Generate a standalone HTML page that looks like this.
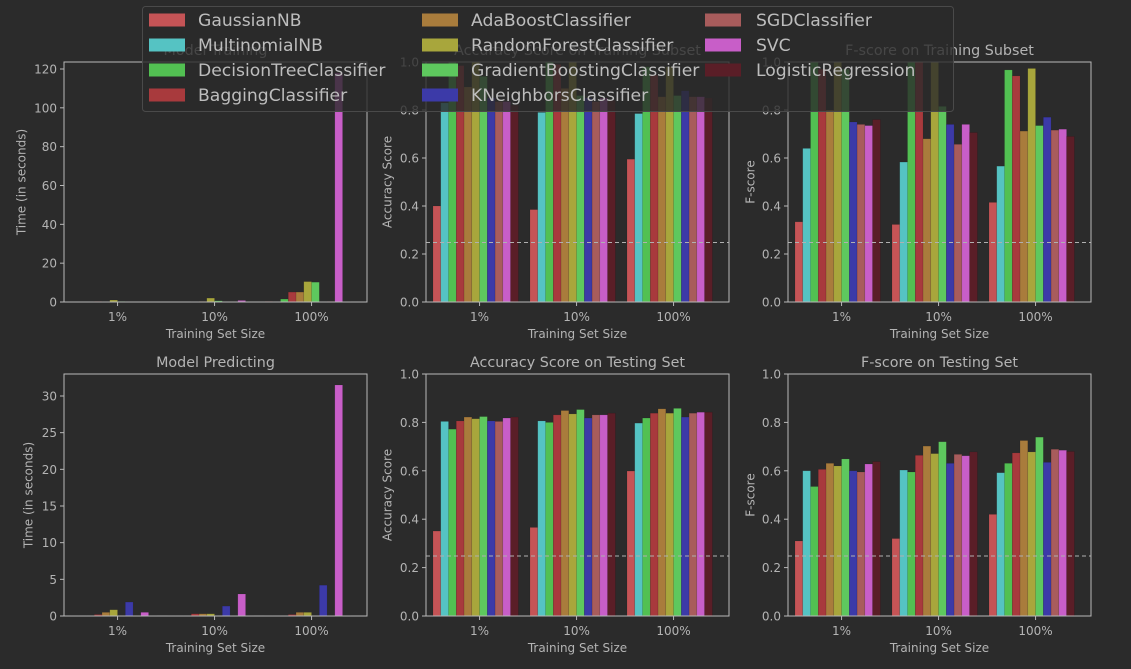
<!DOCTYPE html>
<html><head><meta charset="utf-8"><style>
html,body{margin:0;padding:0;background:#2b2b2b;}
svg{display:block;font-family:"DejaVu Sans","Liberation Sans",sans-serif;}
</style></head><body>
<svg id="fig" width="1131" height="669" viewBox="0 0 1131 669">
<rect width="1131" height="669" fill="#2b2b2b"/>
</svg>
<script>
const classifiers = ["GaussianNB","MultinomialNB","DecisionTreeClassifier","BaggingClassifier","AdaBoostClassifier","RandomForestClassifier","GradientBoostingClassifier","KNeighborsClassifier","SGDClassifier","SVC","LogisticRegression"];
const sizes = ["1%","10%","100%"];
const colors = ["#c55456","#55c3c3","#52c052","#a83a3d","#a97c3c","#a8a63c","#5ec85e","#3c3aa8","#a85c5c","#c85ec8","#5a1e27"];
const trainTime = [[0.05,0.05,0.05,0.3,0.2,1.0,0.3,0.05,0.05,0.05,0.05],[0.05,0.05,0.1,0.2,0.3,2.0,0.6,0.05,0.05,0.8,0.05],[0.3,0.05,1.5,5.1,5.1,10.5,10.2,0.05,0.3,118,0.2]];
const predTime = [[0.05,0.05,0.05,0.2,0.5,0.85,0.05,1.9,0.05,0.5,0.05],[0.05,0.05,0.05,0.3,0.3,0.3,0.05,1.35,0.05,3.0,0.05],[0.05,0.05,0.05,0.2,0.5,0.5,0.05,4.2,0.05,31.5,0.05]];
const accTrain = [[0.40,0.83,1.0,0.985,0.896,1.0,0.94,0.85,0.835,0.835,0.82],[0.385,0.79,1.0,0.99,0.89,1.0,0.86,0.85,0.835,0.85,0.84],[0.595,0.785,0.98,0.945,0.855,0.98,0.86,0.88,0.855,0.855,0.85]];
const fTrain = [[0.334,0.64,1.0,0.97,0.80,1.0,0.97,0.75,0.74,0.735,0.76],[0.323,0.583,1.0,1.0,0.68,1.0,0.815,0.74,0.657,0.74,0.706],[0.415,0.566,0.967,0.942,0.712,0.973,0.735,0.77,0.716,0.72,0.69]];
const accTest = [[0.351,0.804,0.772,0.806,0.822,0.815,0.824,0.806,0.804,0.818,0.822],[0.366,0.806,0.800,0.831,0.849,0.835,0.853,0.818,0.831,0.831,0.838],[0.599,0.797,0.818,0.838,0.856,0.838,0.858,0.822,0.838,0.842,0.842]];
const fTest = [[0.31,0.60,0.535,0.606,0.631,0.62,0.649,0.60,0.595,0.628,0.638],[0.32,0.603,0.595,0.664,0.702,0.671,0.72,0.631,0.668,0.662,0.678],[0.42,0.592,0.631,0.674,0.725,0.678,0.739,0.635,0.689,0.685,0.68]];
const timeTicks1 = [0,20,40,60,80,100,120];
const timeTicks2 = [0,5,10,15,20,25,30];
const scoreTicks = [0.0,0.2,0.4,0.6,0.8,1.0];
const baseline = 0.2478;

const NS="http://www.w3.org/2000/svg";
const svg=document.getElementById('fig');
function mk(tag,attrs,parent){const e=document.createElementNS(NS,tag);for(const k in attrs)e.setAttribute(k,attrs[k]);(parent||svg).appendChild(e);return e;}
const TXT="#b4b4b4", SPINE="#b8b8b8";

const panels=[
 {name:"model-training",title:"Model Training",data:trainTime,left:64,top:62,bottom:302,ymax:123.6,ticks:timeTicks1,fmt:v=>String(v),ylabel:"Time (in seconds)",ylx:22,base:false},
 {name:"accuracy-training",title:"Accuracy Score on Training Subset",data:accTrain,left:426,top:62,bottom:302,ymax:1.0,ticks:scoreTicks,fmt:v=>v.toFixed(1),ylabel:"Accuracy Score",ylx:388,base:true},
 {name:"fscore-training",title:"F-score on Training Subset",data:fTrain,left:788,top:62,bottom:302,ymax:1.0,ticks:scoreTicks,fmt:v=>v.toFixed(1),ylabel:"F-score",ylx:751,base:true},
 {name:"model-predicting",title:"Model Predicting",data:predTime,left:64,top:374,bottom:616,ymax:33.0,ticks:timeTicks2,fmt:v=>String(v),ylabel:"Time (in seconds)",ylx:29,base:false},
 {name:"accuracy-testing",title:"Accuracy Score on Testing Set",data:accTest,left:426,top:374,bottom:616,ymax:1.0,ticks:scoreTicks,fmt:v=>v.toFixed(1),ylabel:"Accuracy Score",ylx:388,base:true},
 {name:"fscore-testing",title:"F-score on Testing Set",data:fTest,left:788,top:374,bottom:616,ymax:1.0,ticks:scoreTicks,fmt:v=>v.toFixed(1),ylabel:"F-score",ylx:751,base:true}
];
const W=303, UNIT=97, BW=0.08;
panels.forEach(p=>{
  const g=mk('g',{});
  
  
  const xs=u=>p.left+7+u*UNIT;
  const ys=v=>p.bottom-(v/p.ymax)*(p.bottom-p.top);
  p.data.forEach((grp,k)=>{
    grp.forEach((v,i)=>{
      const x=xs(k+i*BW);
      const r=mk('rect',{x:x,y:ys(v),width:BW*UNIT,height:Math.max(0,p.bottom-ys(v)),fill:colors[i],stroke:"rgba(0,0,0,0.15)","stroke-width":0.6},g);
      
      
    });
  });
  if(p.base){
    const l=mk('line',{x1:p.left,x2:p.left+W,y1:ys(baseline),y2:ys(baseline),stroke:"#b0b0b0","stroke-width":1,"stroke-dasharray":"4,3"},g);
    
    
  }
  const fr=mk('rect',{x:p.left,y:p.top,width:W,height:p.bottom-p.top,fill:"none",stroke:SPINE,"stroke-width":1},g);
  
  
  p.ticks.forEach(t=>{
    const y=ys(t);
    mk('line',{x1:p.left-4,x2:p.left,y1:y,y2:y,stroke:SPINE},g);
    const tx=mk('text',{x:p.left-7,y:y+4.5,"text-anchor":"end","font-size":12,fill:TXT},g);
    tx.textContent=p.fmt(t);
    
    
  });
  sizes.forEach((s,k)=>{
    const x=xs(k+0.48);
    mk('line',{x1:x,x2:x,y1:p.bottom,y2:p.bottom+4,stroke:SPINE},g);
    const tx=mk('text',{x:x,y:p.bottom+19,"text-anchor":"middle","font-size":12,fill:TXT},g);
    tx.textContent=s;
    
    
  });
  const xl=mk('text',{x:p.left+W/2,y:p.bottom+36,"text-anchor":"middle","font-size":12,fill:TXT},g);
  xl.textContent="Training Set Size";
  
  
  const cy=(p.top+p.bottom)/2;
  const yl=mk('text',{x:p.ylx,y:cy,"text-anchor":"middle","font-size":12,fill:TXT,transform:`rotate(-90 ${p.ylx} ${cy})`,"dominant-baseline":"middle"},g);
  yl.textContent=p.ylabel;
  
  
  const ti=mk('text',{x:p.left+W/2,y:p.top-7,"text-anchor":"middle","font-size":14.3,fill:TXT},g);
  ti.textContent=p.title;
  
  
});

// legend
const lg=mk('g',{});


mk('rect',{x:142.5,y:6.5,width:811,height:105,rx:3,fill:"rgba(43,43,43,0.8)",stroke:"#4a4a4a","stroke-width":1},lg);
const colPatch=[149,422,705], colText=[198,471,756];
classifiers.forEach((c,i)=>{
  const col=Math.floor(i/4), row=i%4;
  const cy=20+row*25;
  const pr=mk('rect',{x:colPatch[col],y:cy-6.5,width:36,height:13,fill:colors[i]},lg);
  
  
  const t=mk('text',{x:colText[col],y:cy+6,"font-size":17.2,fill:"#bdbdbd"},lg);
  t.textContent=c;
  
  
});
</script>
</body></html>
